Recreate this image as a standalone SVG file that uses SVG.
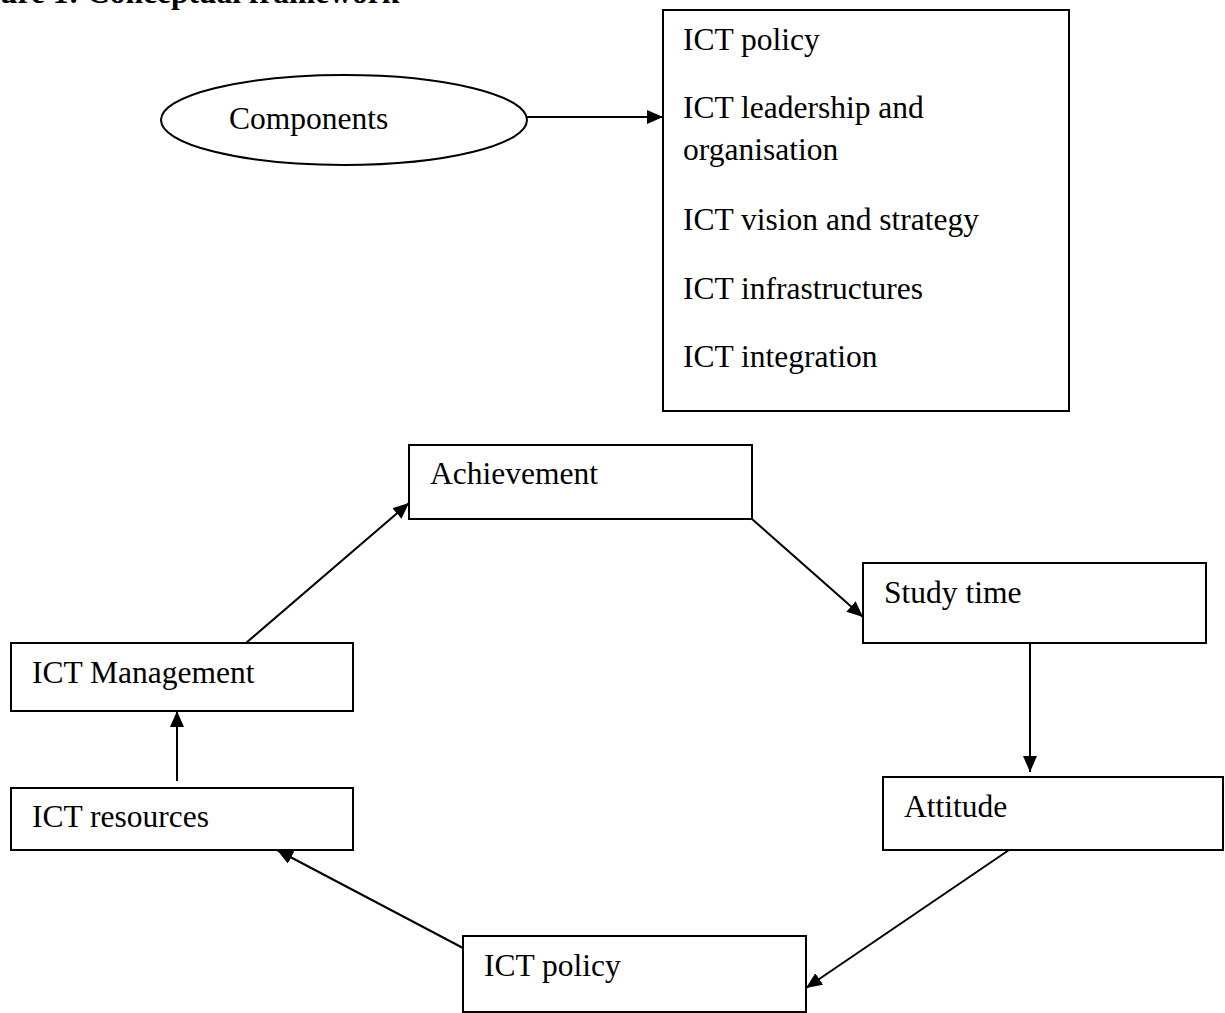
<svg xmlns="http://www.w3.org/2000/svg" width="1225" height="1013" viewBox="0 0 1225 1013">
<style>
.box{fill:#fff;stroke:#000;stroke-width:2}
.t{font-family:"Liberation Serif","Times New Roman",serif;font-size:31.5px;fill:#000}
.title{font-family:"Liberation Serif","Times New Roman",serif;font-size:31.5px;font-weight:bold;fill:#000}
.c{stroke:#000;stroke-width:2;fill:none;marker-end:url(#ah)}
</style>
<defs>
<marker id="ah" markerUnits="userSpaceOnUse" markerWidth="16" markerHeight="14" refX="16" refY="7" orient="auto">
<path d="M0,0 L16,7 L0,14 z" fill="#000"/>
</marker>
</defs>
<rect width="1225" height="1013" fill="#fff"/>
<text class="title" x="0" y="3">ure 1: Conceptual framework</text>

<g id="components">
<ellipse class="box" cx="344" cy="120" rx="183" ry="45"/>
<text class="t" x="229" y="129">Components</text>
</g>

<g id="component-list">
<rect class="box" x="663" y="10" width="406" height="401"/>
<text class="t" x="683" y="50">ICT policy</text>
<text class="t" x="683" y="118">ICT leadership and</text>
<text class="t" x="683" y="160">organisation</text>
<text class="t" x="683" y="230">ICT vision and strategy</text>
<text class="t" x="683" y="299">ICT infrastructures</text>
<text class="t" x="683" y="367">ICT integration</text>
</g>

<g id="achievement">
<rect class="box" x="409" y="445" width="343" height="74"/>
<text class="t" x="430" y="484">Achievement</text>
</g>

<g id="study-time">
<rect class="box" x="863" y="563" width="343" height="80"/>
<text class="t" x="884" y="603">Study time</text>
</g>

<g id="attitude">
<rect class="box" x="883" y="777" width="340" height="73"/>
<text class="t" x="904" y="817">Attitude</text>
</g>

<g id="ict-policy">
<rect class="box" x="463" y="936" width="343" height="76"/>
<text class="t" x="484" y="976">ICT policy</text>
</g>

<g id="ict-resources">
<rect class="box" x="11" y="788" width="342" height="62"/>
<text class="t" x="32" y="827">ICT resources</text>
</g>

<g id="ict-management">
<rect class="box" x="11" y="643" width="342" height="68"/>
<text class="t" x="32" y="683">ICT Management</text>
</g>

<g id="connectors">
<line class="c" x1="527" y1="117" x2="663" y2="117"/>
<line class="c" x1="246" y1="643" x2="409" y2="503"/>
<line class="c" x1="752" y1="519" x2="863" y2="617"/>
<line class="c" x1="1030" y1="643" x2="1030" y2="772"/>
<line class="c" x1="1009" y1="850" x2="806" y2="988"/>
<line class="c" x1="463" y1="948" x2="277" y2="850"/>
<line class="c" x1="177" y1="781" x2="177" y2="711"/>
</g>
</svg>
